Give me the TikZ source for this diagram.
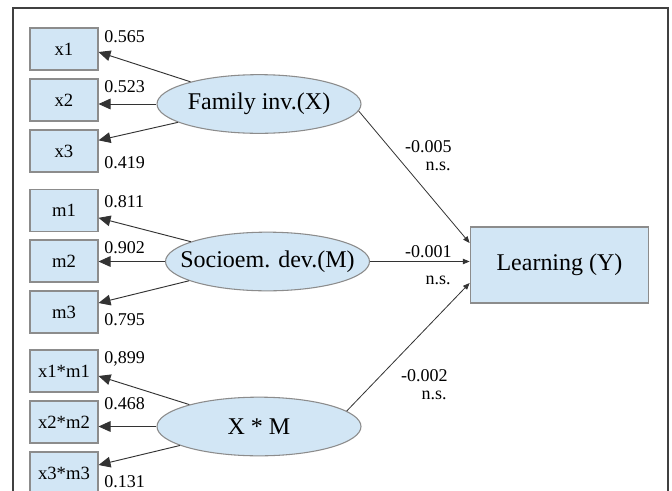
\documentclass[tikz,border=0pt]{standalone}
\usepackage{fontspec}
\setmainfont{Liberation Serif}
\usetikzlibrary{arrows.meta,shapes.geometric,calc}
\definecolor{boxfill}{HTML}{D2E6F5}
\definecolor{boxdraw}{HTML}{8C8C8C}
\definecolor{linec}{HTML}{333333}
\tikzset{
  ind/.style={draw=boxdraw,fill=boxfill,line width=0.8pt,minimum width=51pt,minimum height=31.5pt,inner sep=0pt,font=\fontsize{14}{16}\selectfont},
  lat/.style={ellipse,draw=boxdraw,fill=boxfill,line width=0.8pt,minimum width=153pt,minimum height=44pt,inner xsep=-12pt,inner ysep=0pt,font=\fontsize{18}{20}\selectfont},
  outc/.style={draw=boxdraw,fill=boxfill,line width=0.8pt,minimum width=134pt,minimum height=57pt,inner sep=0pt,font=\fontsize{18}{20}\selectfont},
  load/.style={draw=linec,line width=0.7pt,-{Triangle[length=9pt,width=8pt]}},
  path/.style={draw=linec,line width=0.6pt,-{Triangle[length=5pt,width=4pt]}},
  num/.style={inner sep=0pt,font=\fontsize{13.5}{15}\selectfont},
}
\begin{document}
\begin{tikzpicture}[x=0.75pt,y=-0.75pt]
\useasboundingbox (0,0) rectangle (672,490);
\fill[white] (0,0) rectangle (672,490);
\draw[line width=1pt,black!75] (13,500) -- (13,8) -- (668,8) -- (668,500);
% indicators
\node[ind] (x1) at (64,49) {x1};
\node[ind] (x2) at (64,100) {x2};
\node[ind] (x3) at (64,151) {x3};
\node[ind] (m1) at (64,210.5) {m1};
\node[ind] (m2) at (64,261) {m2};
\node[ind] (m3) at (64,312) {m3};
\node[ind] (xm1) at (64,371) {x1*m1};
\node[ind] (xm2) at (64,422) {x2*m2};
\node[ind] (xm3) at (64,473) {x3*m3};
% latent
\node[lat] (FX) at (259,104) {Family inv.(X)};
\node[lat] (SM) at (267.5,261.5) {Socioem. dev.(M)};
\node[lat] (XM) at (259,426.5) {X * M};
\node[outc] (Y) at (559.5,265) {Learning (Y)};
% loadings
\draw[load] (FX) -- ([yshift=-2.25pt]x1.east);
\draw[load] (FX.west) -- (FX.west -| x2.east);
\draw[load] (FX) -- ([yshift=8pt]x3.east);
\draw[load] (SM) -- ([yshift=-5.5pt]m1.east);
\draw[load] (SM.west) -- (SM.west -| m2.east);
\draw[load] (SM) -- ([yshift=6.75pt]m3.east);
\draw[load] (XM) -- ([yshift=-3.75pt]xm1.east);
\draw[load] (XM.west) -- (XM.west -| xm2.east);
\draw[load] (XM) -- ([yshift=6pt]xm3.east);
% structural paths
\draw[path] (FX.-4) -- ([yshift=16.5pt]Y.west);
\draw[path] (SM.east) -- (SM.east -| Y.west);
\draw[path] (XM.10) -- ([yshift=-13.5pt]Y.west);
% loading labels
\node[num,anchor=west] (l1) at (104,37) {0.565};
\node[num,anchor=west] (l2) at (104,87) {0.523};
\node[num,anchor=west] (l3) at (104,163) {0.419};
\node[num,anchor=west] (l4) at (104,202) {0.811};
\node[num,anchor=west] (l5) at (104,248) {0.902};
\node[num,anchor=west] (l6) at (104,320) {0.795};
\node[num,anchor=west] (l7) at (104,359) {0,899};
\node[num,anchor=west] (l8) at (104,404) {0.468};
\node[num,anchor=west] (l9) at (104,482) {0.131};
% path labels
\node[num,anchor=east] (p1) at (452,147) {-0.005};
\node[num,anchor=east] (p1s) at (451,166) {n.s.};
\node[num,anchor=east] (p2) at (452,252) {-0.001};
\node[num,anchor=east] (p2s) at (451,280) {n.s.};
\node[num,anchor=east] (p3) at (448,376) {-0.002};
\node[num,anchor=east] (p3s) at (447,395) {n.s.};
\end{tikzpicture}
\end{document}
